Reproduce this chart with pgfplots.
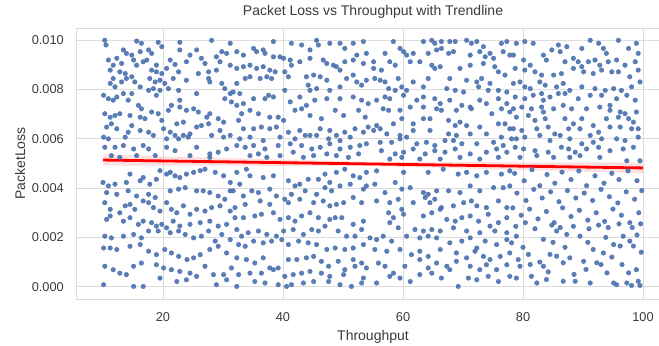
\documentclass[border=0pt]{standalone}
\usepackage{pgfplots}
\pgfplotsset{compat=1.18}
\usepackage{fontspec}
\setmainfont{Liberation Sans}
\definecolor{dotblue}{HTML}{4C72B0}
\definecolor{txt}{HTML}{3A3A3A}
\definecolor{gridc}{HTML}{DCDCDC}
\begin{document}
\begin{tikzpicture}
\begin{axis}[
  scale only axis, width=594pt, height=271pt,
  xmin=5.5, xmax=104.5, ymin=-0.0005, ymax=0.0105,
  xtick={20,40,60,80,100},
  ytick={0,0.002,0.004,0.006,0.008,0.010},
  scaled y ticks=false,
  /pgf/number format/assume math mode=true,
  tick style={draw=none},
  grid=major, major grid style={gridc, line width=0.9pt},
  axis line style={gridc, line width=0.9pt},
  ticklabel style={font=\fontsize{12.8}{14}\selectfont, text=txt},
  yticklabel style={/pgf/number format/fixed, /pgf/number format/fixed zerofill, /pgf/number format/precision=3, anchor=east, inner sep=0pt, xshift=-12pt},
  xticklabel style={anchor=center, inner sep=0pt, yshift=-18pt},
  xlabel={Throughput}, ylabel={PacketLoss},
  label style={font=\fontsize{14}{16}\selectfont, text=txt},
  xlabel style={at={(axis description cs:0.5,-0.140)}, anchor=center},
  ylabel style={at={(axis description cs:-0.094,0.5)}, anchor=center, rotate=0},
  title={Packet Loss vs Throughput with Trendline},
  title style={font=\fontsize{14}{16}\selectfont, text=txt, at={(axis description cs:0.5,1.036)}, anchor=center},
]
\coordinate (sw) at (rel axis cs:0,0);
\coordinate (ne) at (rel axis cs:1,1);
\addplot[only marks, mark=*, mark size=2.3pt, color=dotblue, mark options={draw=dotblue, fill=dotblue, opacity=0.92}] coordinates {
(10.3,10.0e-3) (10.5,9.81e-3) (15.6,9.97e-3) (16.4,9.88e-3) (19.2,9.92e-3) (19.8,9.74e-3) (22.8,9.92e-3) (22.8,9.61e-3) (28.1,10.0e-3) (29.8,9.54e-3) (31.2,9.88e-3)
(13.4,9.61e-3) (13.9,9.47e-3) (14.8,9.40e-3) (16.2,9.54e-3) (17.6,9.61e-3) (18.1,9.47e-3) (24.5,9.40e-3) (25.6,9.61e-3) (26.4,9.27e-3) (27.0,9.06e-3) (23.9,9.13e-3) (21.2,9.20e-3) (22.0,9.02e-3) (28.9,9.33e-3) (29.5,9.13e-3) (30.6,9.47e-3)
(10.9,9.20e-3) (11.7,8.99e-3) (12.3,9.27e-3) (13.1,9.06e-3) (15.1,9.20e-3) (15.6,8.99e-3) (16.7,9.13e-3) (17.3,9.20e-3) (18.9,8.99e-3) (20.6,8.86e-3) (11.2,8.79e-3) (12.8,8.72e-3) (13.7,8.65e-3) (18.1,8.79e-3) (18.9,8.72e-3) (19.8,8.65e-3) (22.6,8.72e-3) (25.9,8.65e-3) (27.6,8.72e-3) (28.9,8.79e-3) (31.2,8.99e-3)
(11.7,8.45e-3) (11.2,8.25e-3) (12.0,8.11e-3) (13.1,8.31e-3) (13.9,8.45e-3) (14.8,8.52e-3) (15.3,8.31e-3) (16.2,8.11e-3) (17.8,8.45e-3) (18.7,8.31e-3) (19.5,8.38e-3) (20.3,8.25e-3) (21.7,8.45e-3) (23.9,8.38e-3) (27.6,8.45e-3) (27.8,8.31e-3) (29.8,8.25e-3) (30.3,8.04e-3) (31.2,7.84e-3)
(10.1,7.77e-3) (10.9,7.63e-3) (11.7,7.57e-3) (12.3,7.70e-3) (13.4,7.84e-3) (14.8,7.84e-3) (17.6,7.97e-3) (18.4,8.04e-3) (19.5,7.97e-3) (20.9,8.04e-3) (22.6,7.97e-3) (25.6,7.84e-3) (30.3,7.63e-3) (31.4,7.50e-3) (18.9,7.77e-3) (22.8,7.57e-3)
(14.2,7.57e-3) (15.9,7.36e-3) (16.4,7.22e-3) (18.1,7.09e-3) (19.2,7.02e-3) (20.9,7.16e-3) (21.4,7.36e-3) (22.8,7.29e-3) (23.9,7.16e-3) (25.1,7.22e-3) (25.9,7.09e-3) (27.3,6.88e-3) (27.8,7.02e-3)
(10.3,7.02e-3) (11.2,6.88e-3) (12.0,6.95e-3) (12.8,7.02e-3) (14.5,6.95e-3) (16.2,6.88e-3) (17.0,6.82e-3) (19.8,6.75e-3) (22.3,6.61e-3) (23.4,6.68e-3) (29.2,6.82e-3) (30.1,6.68e-3)
(10.6,6.48e-3) (11.4,6.61e-3) (12.3,6.41e-3) (14.2,6.27e-3) (14.8,6.54e-3) (16.2,6.34e-3) (17.6,6.27e-3) (20.1,6.41e-3) (21.2,6.27e-3) (22.0,6.14e-3) (23.4,6.14e-3) (24.5,6.20e-3) (25.6,6.48e-3) (26.4,6.54e-3) (27.6,6.61e-3) (29.5,6.34e-3) (31.2,6.14e-3)
(10.1,6.07e-3) (10.9,6.00e-3) (13.7,6.07e-3) (18.4,6.14e-3) (20.6,6.00e-3) (22.6,6.00e-3) (24.2,6.07e-3) (28.1,6.14e-3) (30.1,6.07e-3)
(10.3,5.66e-3) (12.0,5.66e-3) (13.4,5.73e-3) (15.1,5.59e-3) (16.7,5.73e-3) (17.6,5.59e-3) (20.6,5.66e-3) (22.0,5.52e-3) (25.6,5.66e-3) (27.8,5.39e-3) (29.2,5.46e-3) (30.6,5.59e-3)
(11.4,5.32e-3) (12.8,5.25e-3) (15.6,5.32e-3) (18.7,5.32e-3) (24.5,5.32e-3) (27.8,5.25e-3)
(38.4,9.95e-3) (41.4,9.88e-3) (43.1,9.81e-3) (44.5,9.61e-3) (45.6,10.0e-3) (45.9,9.81e-3) (47.8,9.88e-3) (49.5,9.88e-3) (50.3,9.67e-3) (51.7,9.88e-3) (53.4,9.95e-3) (53.9,9.47e-3)
(35.1,9.67e-3) (35.6,9.54e-3) (36.7,9.61e-3) (37.0,9.47e-3) (32.3,9.54e-3) (33.4,9.40e-3)
(38.4,9.33e-3) (39.5,9.33e-3) (40.1,9.27e-3) (41.2,9.20e-3) (41.4,8.99e-3) (42.8,9.13e-3) (44.5,9.27e-3) (46.7,9.20e-3) (47.3,9.06e-3) (48.4,8.99e-3) (48.9,8.93e-3) (49.5,8.79e-3) (50.3,9.13e-3) (51.7,9.20e-3) (52.3,9.40e-3) (53.4,9.06e-3) (34.5,8.99e-3) (35.6,8.86e-3) (36.7,8.93e-3) (37.8,8.79e-3) (38.7,8.72e-3) (40.3,8.72e-3) (32.3,8.86e-3) (33.4,8.93e-3)
(33.7,8.45e-3) (34.5,8.52e-3) (36.2,8.45e-3) (37.3,8.52e-3) (38.1,8.45e-3) (40.9,8.52e-3) (43.9,8.52e-3) (45.1,8.59e-3) (46.2,8.52e-3) (47.3,8.38e-3) (50.6,8.45e-3) (51.7,8.59e-3) (52.3,8.31e-3) (53.1,8.18e-3) (53.9,8.38e-3) (32.3,8.25e-3)
(40.3,7.97e-3) (44.2,8.18e-3) (44.5,7.97e-3) (45.6,8.04e-3) (47.8,7.97e-3) (49.5,8.11e-3) (31.7,7.90e-3) (32.8,7.84e-3)
(35.1,7.63e-3) (37.0,7.63e-3) (37.6,7.77e-3) (38.4,7.70e-3) (41.2,7.50e-3) (42.8,7.70e-3) (43.9,7.36e-3) (45.3,7.57e-3) (47.3,7.63e-3) (49.5,7.63e-3) (51.7,7.70e-3) (53.1,7.57e-3) (54.2,7.43e-3) (32.3,7.36e-3) (33.4,7.43e-3)
(33.1,7.02e-3) (34.5,7.16e-3) (35.9,7.02e-3) (37.8,6.88e-3) (39.2,6.88e-3) (40.1,6.75e-3) (42.0,7.16e-3) (43.1,7.22e-3) (44.5,6.95e-3) (46.4,6.82e-3) (48.7,7.16e-3) (50.1,6.95e-3) (52.6,7.16e-3) (53.7,6.88e-3) (32.6,6.75e-3)
(33.4,6.41e-3) (35.1,6.41e-3) (36.4,6.48e-3) (37.8,6.41e-3) (38.9,6.48e-3) (40.9,6.27e-3) (42.8,6.34e-3) (44.5,6.14e-3) (46.2,6.41e-3) (47.8,6.34e-3) (48.9,6.14e-3) (50.3,6.27e-3) (52.0,6.41e-3) (53.4,6.27e-3) (54.2,6.48e-3)
(32.8,6.00e-3) (34.5,6.07e-3) (36.7,5.93e-3) (39.5,6.07e-3) (42.0,6.00e-3) (43.7,6.14e-3) (45.6,6.14e-3) (47.6,6.00e-3) (49.5,5.93e-3) (51.2,6.07e-3)
(32.3,5.73e-3) (33.7,5.66e-3) (35.1,5.73e-3) (37.0,5.59e-3) (39.2,5.73e-3) (41.2,5.80e-3) (43.1,5.73e-3) (44.8,5.59e-3) (46.2,5.66e-3) (47.8,5.80e-3) (49.5,5.59e-3) (51.2,5.66e-3) (52.8,5.73e-3) (53.9,5.80e-3)
(34.5,5.32e-3) (35.9,5.39e-3) (37.3,5.25e-3) (39.5,5.32e-3) (41.7,5.46e-3) (43.4,5.25e-3) (45.1,5.32e-3) (47.3,5.39e-3) (48.9,5.32e-3) (50.9,5.25e-3) (52.6,5.39e-3)
(58.4,9.95e-3) (63.4,9.95e-3) (64.8,10.0e-3) (65.3,9.88e-3) (66.4,9.95e-3) (67.8,9.95e-3) (68.7,9.95e-3) (70.6,10.0e-3) (71.4,9.88e-3) (72.3,9.95e-3) (73.4,9.74e-3) (76.4,9.88e-3) (77.3,9.95e-3)
(57.0,9.47e-3) (59.5,9.67e-3) (60.1,9.54e-3) (60.6,9.40e-3) (61.7,9.47e-3) (64.2,9.47e-3) (65.6,9.61e-3) (66.4,9.67e-3) (67.6,9.47e-3) (68.4,9.54e-3) (71.2,9.40e-3) (72.8,9.54e-3) (73.7,9.33e-3) (74.5,9.47e-3) (75.1,9.27e-3) (76.7,9.54e-3) (77.8,9.40e-3)
(55.1,9.13e-3) (57.8,9.13e-3) (58.7,8.99e-3) (61.2,9.13e-3) (62.8,9.13e-3) (64.8,8.99e-3) (65.3,8.86e-3) (66.2,8.93e-3) (69.5,8.86e-3) (71.2,8.99e-3) (73.4,9.06e-3) (75.3,8.93e-3) (75.9,8.72e-3) (77.0,8.59e-3)
(55.3,8.45e-3) (56.2,8.38e-3) (57.0,8.31e-3) (59.2,8.45e-3) (61.7,8.31e-3) (64.2,8.45e-3) (67.8,8.45e-3) (70.6,8.38e-3) (72.3,8.31e-3) (73.1,8.45e-3) (74.5,8.25e-3) (55.1,8.86e-3) (56.4,8.79e-3)
(57.6,8.04e-3) (58.7,7.97e-3) (59.8,8.11e-3) (60.6,7.97e-3) (63.4,8.11e-3) (67.3,8.04e-3) (68.7,7.97e-3) (70.1,7.90e-3) (72.6,8.11e-3) (74.2,7.97e-3) (75.9,7.97e-3) (77.3,7.90e-3)
(55.6,7.57e-3) (57.0,7.70e-3) (57.8,7.63e-3) (60.1,7.77e-3) (62.3,7.57e-3) (63.4,7.70e-3) (65.3,7.63e-3) (66.2,7.43e-3) (67.8,7.57e-3) (69.8,7.36e-3) (71.2,7.29e-3) (72.8,7.57e-3) (73.9,7.43e-3) (75.9,7.63e-3) (77.3,7.43e-3)
(56.7,7.22e-3) (57.6,7.16e-3) (59.5,7.16e-3) (61.2,7.29e-3) (63.4,7.29e-3) (65.6,7.22e-3) (66.4,7.16e-3) (68.9,7.16e-3) (71.4,7.22e-3) (74.8,7.02e-3) (76.4,7.22e-3) (77.8,7.09e-3)
(55.6,6.54e-3) (56.2,6.41e-3) (58.4,6.61e-3) (59.8,6.82e-3) (61.7,6.61e-3) (63.4,6.82e-3) (64.5,6.82e-3) (67.6,6.75e-3) (68.7,6.54e-3) (69.5,6.68e-3) (70.6,6.54e-3) (72.8,6.48e-3) (75.9,6.61e-3) (77.0,6.61e-3) (77.8,6.41e-3)
(55.1,6.34e-3) (57.3,6.20e-3) (59.5,6.14e-3) (61.7,6.34e-3) (64.5,6.34e-3) (67.6,6.20e-3) (68.9,6.14e-3) (71.2,6.20e-3) (73.9,6.20e-3) (76.4,6.07e-3) (78.1,6.00e-3)
(56.2,5.86e-3) (58.1,5.86e-3) (59.5,6.00e-3) (60.6,6.07e-3) (62.3,5.80e-3) (63.9,5.86e-3) (65.3,5.73e-3) (67.0,5.93e-3) (68.4,5.93e-3) (69.8,5.80e-3) (72.3,5.80e-3) (75.1,5.86e-3) (76.7,5.73e-3)
(56.4,5.52e-3) (58.7,5.39e-3) (60.1,5.46e-3) (61.7,5.59e-3) (63.7,5.39e-3) (65.3,5.52e-3) (67.0,5.46e-3) (68.7,5.59e-3) (71.2,5.39e-3) (73.9,5.46e-3) (75.6,5.59e-3) (77.3,5.46e-3)
(57.8,5.18e-3) (59.8,5.25e-3) (62.8,5.18e-3) (66.2,5.18e-3) (69.5,5.25e-3) (72.8,5.18e-3) (75.9,5.25e-3)
(78.9,9.88e-3) (80.3,9.95e-3) (81.7,9.88e-3) (84.8,9.61e-3) (85.9,9.81e-3) (86.2,9.54e-3) (87.3,9.74e-3) (89.8,9.67e-3) (91.2,10.0e-3) (92.6,9.88e-3) (93.4,9.67e-3) (93.9,9.47e-3) (95.9,10.0e-3) (97.6,9.67e-3) (98.9,9.88e-3)
(78.4,9.40e-3) (80.1,9.20e-3) (81.2,8.99e-3) (83.4,9.40e-3) (83.9,9.20e-3) (87.0,9.13e-3) (88.4,9.27e-3) (89.2,9.13e-3) (89.8,8.93e-3) (90.9,9.13e-3) (92.0,9.20e-3) (92.8,8.99e-3) (94.2,9.13e-3) (95.6,9.20e-3) (97.0,8.99e-3) (99.2,9.47e-3) (98.7,9.13e-3)
(78.7,8.86e-3) (80.3,8.79e-3) (82.0,8.72e-3) (83.1,8.59e-3) (85.1,8.59e-3) (86.4,8.65e-3) (88.4,8.86e-3) (90.1,8.72e-3) (91.7,8.65e-3) (93.1,8.79e-3) (94.8,8.72e-3) (95.9,8.72e-3) (97.8,8.52e-3) (99.2,8.79e-3)
(78.4,8.25e-3) (79.5,8.31e-3) (80.3,8.11e-3) (81.2,8.04e-3) (82.8,8.31e-3) (83.7,8.18e-3) (85.6,8.11e-3) (86.7,8.25e-3) (87.8,7.97e-3) (89.8,8.11e-3) (92.0,8.04e-3) (93.7,7.97e-3) (95.1,8.04e-3) (96.4,7.97e-3) (98.1,8.11e-3) (99.5,8.31e-3)
(78.7,7.70e-3) (80.3,7.63e-3) (81.7,7.77e-3) (83.1,7.84e-3) (83.4,7.57e-3) (84.5,7.70e-3) (85.9,7.84e-3) (87.0,7.84e-3) (89.2,7.63e-3) (91.2,7.77e-3) (93.1,7.77e-3) (94.5,7.36e-3) (95.6,7.63e-3) (97.3,7.77e-3) (98.7,7.57e-3)
(78.4,7.22e-3) (79.8,7.29e-3) (81.4,7.22e-3) (83.1,7.29e-3) (83.4,7.09e-3) (85.1,7.22e-3) (86.7,7.36e-3) (88.1,7.22e-3) (90.6,7.22e-3) (92.8,7.29e-3) (94.5,7.16e-3) (96.2,7.09e-3) (97.0,7.02e-3) (98.9,7.09e-3)
(78.9,6.88e-3) (80.9,6.95e-3) (82.0,6.75e-3) (83.7,6.82e-3) (87.0,6.82e-3) (88.4,6.61e-3) (89.8,6.82e-3) (91.7,6.54e-3) (93.9,6.82e-3) (95.9,6.88e-3) (97.6,6.82e-3) (98.4,6.68e-3) (99.2,6.41e-3)
(78.4,6.41e-3) (79.8,6.34e-3) (82.3,6.41e-3) (84.2,6.48e-3) (85.3,6.20e-3) (86.2,6.14e-3) (87.6,6.41e-3) (89.5,6.41e-3) (91.2,6.14e-3) (92.6,6.27e-3) (94.5,6.48e-3) (96.2,6.48e-3) (98.1,6.41e-3)
(78.9,6.00e-3) (80.3,6.07e-3) (82.8,6.14e-3) (84.5,5.93e-3) (87.8,6.00e-3) (89.8,5.80e-3) (91.7,5.86e-3) (93.1,6.00e-3) (95.6,6.00e-3) (97.0,5.93e-3) (99.2,6.07e-3)
(78.7,5.66e-3) (80.1,5.59e-3) (82.0,5.52e-3) (84.2,5.46e-3) (86.4,5.66e-3) (87.6,5.59e-3) (88.7,5.46e-3) (90.6,5.59e-3) (92.6,5.66e-3) (94.5,5.52e-3) (96.7,5.59e-3) (98.4,5.66e-3)
(79.5,5.25e-3) (82.3,5.32e-3) (85.1,5.25e-3) (87.8,5.25e-3) (89.5,5.32e-3) (92.8,5.25e-3) (97.3,5.11e-3) (99.5,5.11e-3)
(14.5,4.57e-3) (16.2,4.30e-3) (17.8,4.16e-3) (18.9,4.36e-3) (19.5,4.71e-3) (20.6,4.57e-3) (21.2,4.64e-3) (22.0,4.50e-3) (22.8,4.43e-3) (23.9,4.57e-3) (25.1,4.64e-3) (26.2,4.71e-3) (27.0,4.77e-3) (28.7,4.64e-3) (30.1,4.50e-3) (31.2,4.23e-3) (10.0,4.23e-3) (10.9,4.09e-3) (12.0,4.16e-3) (13.9,4.23e-3) (16.7,4.43e-3)
(10.6,3.82e-3) (12.3,3.75e-3) (14.2,3.89e-3) (15.6,3.68e-3) (17.6,3.75e-3) (18.7,3.62e-3) (21.2,3.89e-3) (22.6,3.96e-3) (23.7,4.02e-3) (25.6,3.89e-3) (26.7,3.89e-3) (27.8,3.82e-3) (29.2,3.68e-3) (30.3,3.55e-3) (31.2,3.89e-3)
(10.3,3.41e-3) (11.2,3.14e-3) (12.8,3.00e-3) (13.7,3.28e-3) (14.5,3.34e-3) (15.3,3.14e-3) (16.7,3.48e-3) (17.6,3.41e-3) (18.4,3.21e-3) (19.5,3.07e-3) (20.6,3.41e-3) (21.4,3.14e-3) (22.3,3.00e-3) (23.4,3.28e-3) (24.5,2.94e-3) (25.6,3.14e-3) (27.0,3.07e-3) (28.1,3.21e-3) (29.5,3.28e-3) (31.2,3.07e-3)
(10.6,2.73e-3) (11.2,2.87e-3) (13.4,2.66e-3) (14.5,2.80e-3) (15.9,2.53e-3) (16.7,2.66e-3) (18.1,2.60e-3) (18.9,2.46e-3) (19.8,2.53e-3) (20.6,2.39e-3) (21.7,2.66e-3) (22.8,2.46e-3) (24.5,2.53e-3) (26.2,2.60e-3) (27.8,2.66e-3) (29.2,2.46e-3) (30.6,2.53e-3)
(10.3,2.05e-3) (11.4,1.98e-3) (13.4,2.05e-3) (15.1,2.12e-3) (16.4,1.98e-3) (17.6,2.26e-3) (19.2,2.26e-3) (21.2,2.19e-3) (22.6,2.26e-3) (23.7,2.12e-3) (25.1,1.98e-3) (26.4,2.05e-3) (27.6,2.26e-3) (28.7,1.85e-3) (29.8,2.12e-3) (31.2,1.91e-3)
(10.1,1.57e-3) (11.2,1.57e-3) (12.3,1.51e-3) (14.5,1.64e-3) (16.2,1.71e-3) (17.6,1.44e-3) (18.9,1.30e-3) (20.3,1.51e-3) (21.4,1.37e-3) (22.6,1.23e-3) (24.0,1.10e-3) (25.1,1.17e-3) (26.2,1.30e-3) (27.8,1.51e-3) (29.2,1.64e-3) (30.6,1.37e-3)
(10.3,0.83e-3) (11.7,0.69e-3) (12.8,0.55e-3) (13.9,0.49e-3) (15.1,0.83e-3) (16.4,0.96e-3) (18.9,0.89e-3) (20.1,0.76e-3) (21.4,0.69e-3) (22.8,0.62e-3) (24.5,0.55e-3) (25.6,0.42e-3) (27.0,0.83e-3) (28.4,0.49e-3) (30.1,0.49e-3) (31.4,0.76e-3)
(10.1,0.08e-3) (15.1,0.01e-3) (16.7,0.01e-3) (19.5,0.35e-3) (22.3,0.21e-3) (23.9,0.28e-3) (28.9,0.08e-3) (30.6,0.28e-3)
(32.3,4.64e-3) (33.9,4.77e-3) (34.5,4.50e-3) (36.7,4.43e-3) (38.4,4.50e-3) (40.9,4.30e-3) (42.8,4.16e-3) (44.2,4.36e-3) (45.9,4.36e-3) (47.0,4.57e-3) (47.8,4.23e-3) (48.9,4.64e-3) (50.3,4.77e-3) (51.7,4.50e-3) (52.8,4.43e-3) (53.9,4.64e-3) (32.8,4.16e-3) (31.7,3.89e-3)
(33.4,3.68e-3) (34.8,3.89e-3) (35.9,3.82e-3) (37.8,3.96e-3) (38.9,3.68e-3) (40.3,3.55e-3) (41.4,3.75e-3) (42.0,4.09e-3) (43.7,3.89e-3) (45.6,3.75e-3) (47.0,4.02e-3) (48.1,3.89e-3) (49.5,4.09e-3) (51.2,4.16e-3) (53.4,3.96e-3) (53.9,4.09e-3)
(33.7,3.34e-3) (36.2,3.48e-3) (37.8,3.34e-3) (40.9,3.41e-3) (42.8,3.55e-3) (45.1,3.41e-3) (46.7,3.48e-3) (47.8,3.28e-3) (48.9,3.34e-3) (50.1,3.41e-3) (51.7,3.62e-3) (53.1,3.41e-3) (32.0,3.21e-3)
(33.4,2.80e-3) (35.3,2.87e-3) (36.4,2.94e-3) (38.4,3.00e-3) (39.5,2.73e-3) (40.9,2.80e-3) (42.0,2.66e-3) (43.1,2.87e-3) (44.5,3.00e-3) (45.9,2.80e-3) (47.8,2.73e-3) (48.7,2.80e-3) (49.8,2.80e-3) (51.7,2.53e-3) (53.4,2.66e-3) (32.0,2.80e-3)
(32.3,2.32e-3) (33.1,2.05e-3) (34.2,2.19e-3) (35.9,2.26e-3) (37.3,2.12e-3) (38.9,2.05e-3) (40.1,2.26e-3) (41.7,2.32e-3) (43.4,2.12e-3) (44.8,2.32e-3) (45.9,2.26e-3) (47.0,2.46e-3) (49.2,2.26e-3) (50.6,2.05e-3) (52.0,2.05e-3) (53.1,2.32e-3) (54.5,1.98e-3)
(32.6,1.71e-3) (33.7,1.64e-3) (35.1,1.85e-3) (36.7,1.78e-3) (38.1,1.85e-3) (39.8,1.91e-3) (40.9,1.71e-3) (42.6,1.85e-3) (44.2,1.78e-3) (45.6,1.71e-3) (47.3,1.51e-3) (48.7,1.57e-3) (50.3,1.51e-3) (51.7,1.57e-3) (53.4,1.71e-3)
(32.3,1.17e-3) (33.9,1.10e-3) (35.3,0.96e-3) (36.7,1.17e-3) (37.8,0.76e-3) (39.2,0.76e-3) (40.9,1.10e-3) (42.3,1.10e-3) (43.9,1.17e-3) (45.1,1.23e-3) (46.4,1.03e-3) (47.6,0.83e-3) (49.2,1.03e-3) (50.3,0.69e-3) (51.7,1.10e-3) (53.1,0.96e-3) (53.9,0.76e-3)
(32.6,0.49e-3) (34.5,0.55e-3) (36.4,0.55e-3) (38.4,0.69e-3) (40.3,0.42e-3) (41.7,0.49e-3) (43.1,0.55e-3) (44.5,0.62e-3) (46.4,0.55e-3) (47.8,0.42e-3) (50.1,0.49e-3) (52.0,0.83e-3) (53.4,0.35e-3)
(32.3,0.01e-3) (35.3,0.21e-3) (37.0,0.15e-3) (39.2,0.08e-3) (40.6,0.01e-3) (41.4,0.08e-3) (43.4,0.15e-3) (45.1,0.21e-3) (47.6,0.21e-3) (49.5,0.08e-3) (51.4,0.01e-3) (53.1,0.15e-3)
(55.6,4.70e-3) (60.1,4.64e-3) (64.2,4.64e-3) (66.7,4.77e-3) (69.2,4.57e-3) (70.6,4.64e-3) (72.3,4.50e-3) (73.9,4.64e-3) (76.4,4.57e-3) (77.8,4.70e-3)
(55.3,4.16e-3) (57.0,3.82e-3) (58.7,4.23e-3) (59.8,3.96e-3) (61.2,4.02e-3) (63.4,3.82e-3) (64.2,3.75e-3) (65.6,3.89e-3) (67.6,3.89e-3) (69.5,3.82e-3) (71.2,4.09e-3) (72.8,3.89e-3) (75.1,4.02e-3) (76.7,4.02e-3) (77.8,4.09e-3)
(55.6,3.48e-3) (57.8,3.41e-3) (59.2,3.55e-3) (59.8,3.14e-3) (61.7,3.41e-3) (63.7,3.62e-3) (64.5,3.41e-3) (65.3,3.55e-3) (66.4,3.21e-3) (68.4,3.28e-3) (70.1,3.41e-3) (71.4,3.48e-3) (72.3,3.28e-3) (73.9,3.21e-3) (75.9,3.48e-3) (77.3,3.21e-3)
(57.6,3.00e-3) (58.4,2.80e-3) (60.1,2.94e-3) (63.4,2.87e-3) (64.8,3.00e-3) (66.2,3.14e-3) (67.3,2.73e-3) (68.7,2.66e-3) (69.8,2.80e-3) (71.2,2.87e-3) (72.6,2.66e-3) (74.2,2.94e-3) (75.9,2.60e-3) (77.3,2.80e-3)
(57.8,2.60e-3) (59.2,2.39e-3) (62.0,2.32e-3) (63.4,2.26e-3) (64.8,2.32e-3) (66.2,2.26e-3) (68.4,2.39e-3) (70.6,2.26e-3) (72.8,2.19e-3) (74.5,2.46e-3) (75.3,2.26e-3) (77.3,2.19e-3)
(55.6,1.91e-3) (56.7,2.05e-3) (58.1,1.85e-3) (60.6,2.05e-3) (62.8,1.98e-3) (64.2,2.05e-3) (65.6,1.98e-3) (67.8,1.78e-3) (69.8,1.85e-3) (71.2,1.98e-3) (72.3,1.57e-3) (73.7,1.85e-3) (75.6,1.71e-3) (77.3,1.91e-3)
(55.3,1.51e-3) (57.3,1.44e-3) (59.5,1.51e-3) (61.4,1.30e-3) (62.8,1.44e-3) (64.2,1.23e-3) (66.2,1.51e-3) (68.9,1.37e-3) (70.6,1.17e-3) (72.0,1.44e-3) (73.4,1.23e-3) (74.5,1.10e-3) (76.2,1.23e-3) (77.8,1.37e-3)
(55.9,0.96e-3) (57.0,0.83e-3) (58.4,0.55e-3) (60.3,0.83e-3) (62.8,1.10e-3) (64.2,0.76e-3) (65.6,0.96e-3) (67.3,0.83e-3) (68.9,1.03e-3) (71.2,0.83e-3) (72.8,0.69e-3) (73.9,0.89e-3) (75.6,0.69e-3) (77.3,0.89e-3)
(55.6,0.15e-3) (57.8,0.42e-3) (59.5,0.35e-3) (61.2,0.21e-3) (62.8,0.49e-3) (64.8,0.55e-3) (66.4,0.35e-3) (67.8,0.69e-3) (69.2,0.01e-3) (70.9,0.35e-3) (72.3,0.28e-3) (74.2,0.42e-3) (75.9,0.21e-3) (77.8,0.42e-3)
(78.6,4.60e-3) (80.2,4.30e-3) (81.5,4.75e-3) (82.8,4.10e-3) (84.0,4.55e-3) (85.3,4.20e-3) (86.5,4.65e-3) (88.0,4.35e-3) (89.3,4.70e-3) (90.6,4.10e-3) (92.0,4.50e-3) (93.5,4.20e-3) (94.8,4.60e-3) (96.0,4.35e-3) (97.5,4.70e-3) (99.0,4.30e-3)
(79.0,3.80e-3) (80.5,3.50e-3) (81.8,3.95e-3) (83.2,3.60e-3) (84.6,3.85e-3) (86.0,3.45e-3) (87.4,3.90e-3) (88.8,3.60e-3) (90.2,3.80e-3) (91.6,3.50e-3) (93.0,3.95e-3) (94.4,3.65e-3) (95.8,3.40e-3) (97.2,3.85e-3) (98.6,3.55e-3) (99.8,3.90e-3)
(78.3,3.20e-3) (79.7,2.90e-3) (81.1,3.15e-3) (82.5,2.75e-3) (83.9,3.05e-3) (85.2,2.60e-3) (86.6,3.20e-3) (88.0,2.85e-3) (89.4,3.10e-3) (90.8,2.70e-3) (92.2,3.00e-3) (93.6,2.65e-3) (95.0,3.15e-3) (96.4,2.90e-3) (97.8,2.60e-3) (99.3,3.00e-3)
(78.8,2.45e-3) (80.4,2.60e-3) (82.0,2.35e-3) (84.8,2.50e-3) (86.2,2.40e-3) (88.4,2.45e-3) (91.0,2.35e-3) (92.6,2.50e-3) (94.2,2.40e-3) (96.0,2.55e-3) (98.2,2.40e-3) (99.6,2.55e-3)
(80.9,1.31e-3) (84.5,1.31e-3) (85.6,1.24e-3) (87.8,1.17e-3) (86.7,0.97e-3) (90.1,1.03e-3) (92.3,0.97e-3) (91.7,1.51e-3) (93.4,1.37e-3) (95.1,1.71e-3) (96.2,1.65e-3) (96.7,2.05e-3) (97.8,1.85e-3) (98.4,1.65e-3) (98.9,0.69e-3) (97.6,0.56e-3) (94.0,0.56e-3) (91.2,0.15e-3) (88.7,0.22e-3) (86.7,0.22e-3)
(83.9,0.29e-3) (82.3,0.15e-3) (81.4,0.42e-3) (78.9,0.35e-3) (95.1,0.15e-3) (97.3,0.15e-3) (99.2,0.22e-3) (99.5,0.05e-3) (98.1,0.05e-3) (95.6,0.08e-3) (89.5,2.05e-3) (87.3,2.12e-3) (85.6,2.26e-3) (83.4,1.92e-3) (78.9,2.05e-3) (78.1,1.78e-3) (81.2,0.90e-3) (79.5,0.83e-3) (83.4,0.83e-3)
(80.0,1.60e-3) (82.8,1.00e-3) (84.2,0.60e-3) (87.0,1.60e-3) (88.5,0.50e-3) (90.5,0.70e-3) (93.0,0.90e-3) (94.8,1.20e-3) (96.5,0.90e-3) (99.7,1.40e-3) (79.2,1.10e-3) (85.0,1.80e-3) (90.8,1.80e-3) (93.8,2.00e-3) (99.0,2.10e-3)
};
\addplot[draw=none, fill=red, fill opacity=0.12] coordinates {(10,5.36e-3) (55,5.06e-3) (100,5.04e-3) (100,4.60e-3) (55,4.90e-3) (10,4.92e-3)} -- cycle;
\addplot[red, line width=2.8pt] coordinates {(10,5.14e-3) (100,4.82e-3)};
\end{axis}
\pgfresetboundingbox
\path[use as bounding box] ([shift={(-76pt,-46pt)}]sw) rectangle ([shift={(-11pt,28pt)}]ne);
\end{tikzpicture}
\end{document}
